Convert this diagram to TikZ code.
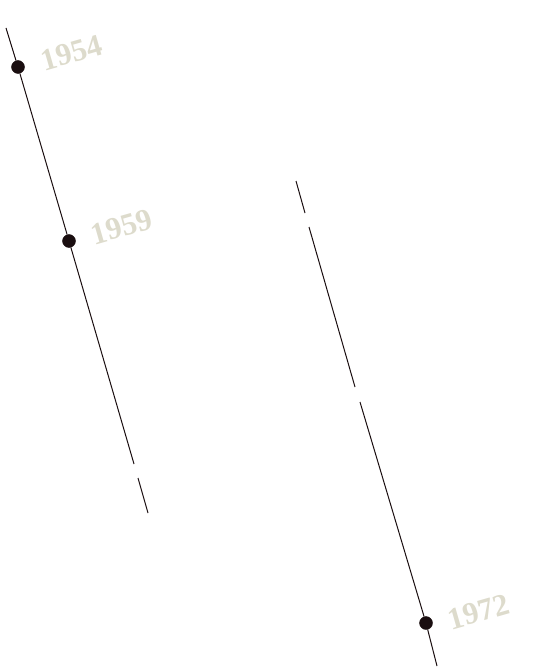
\documentclass[tikz,border=0pt]{standalone}
\usepackage{fontspec}
\setmainfont{Liberation Serif}
\definecolor{dotcol}{HTML}{1A0E10}
\definecolor{yearcol}{HTML}{DDDBCC}
\begin{document}
\begin{tikzpicture}[x=1pt, y=-1pt,
        dot/.style={draw=dotcol, fill=dotcol, circle, minimum size=13pt, inner sep=0pt},
        year/.style={text=yearcol, font=\bfseries\fontsize{31}{31}\selectfont, rotate=16, inner sep=0pt},
        stroke/.style={draw=dotcol, line width=1pt}]
    \useasboundingbox (0,0) rectangle (535,669);
    % first line
    \coordinate (a0) at (6,28);
    \coordinate (a1) at (134,464);
    \coordinate (a2) at (138,478);
    \coordinate (a3) at (148,513);
    % second line
    \coordinate (b0) at (296,181);
    \coordinate (b1) at (305,213);
    \coordinate (b2) at (309,227);
    \coordinate (b3) at (355,387);
    \coordinate (b4) at (360,402);
    \coordinate (b5) at (437,666);
    \node[dot] (y1954) at (18,67) {};
    \node[dot] (y1959) at (69,241) {};
    \node[dot] (y1972) at (426,623) {};
    \foreach \i/\j in {a0/y1954, y1954/y1959, y1959/a1, a2/a3, b0/b1, b2/b3, b4/y1972, y1972/b5}
        \draw[stroke] (\i) -- (\j);
    \node[year] (t1954) at (72,53) {1954};
    \node[year] (t1959) at (122,227) {1959};
    \node[year] (t1972) at (479,612) {1972};
\end{tikzpicture}
\end{document}
